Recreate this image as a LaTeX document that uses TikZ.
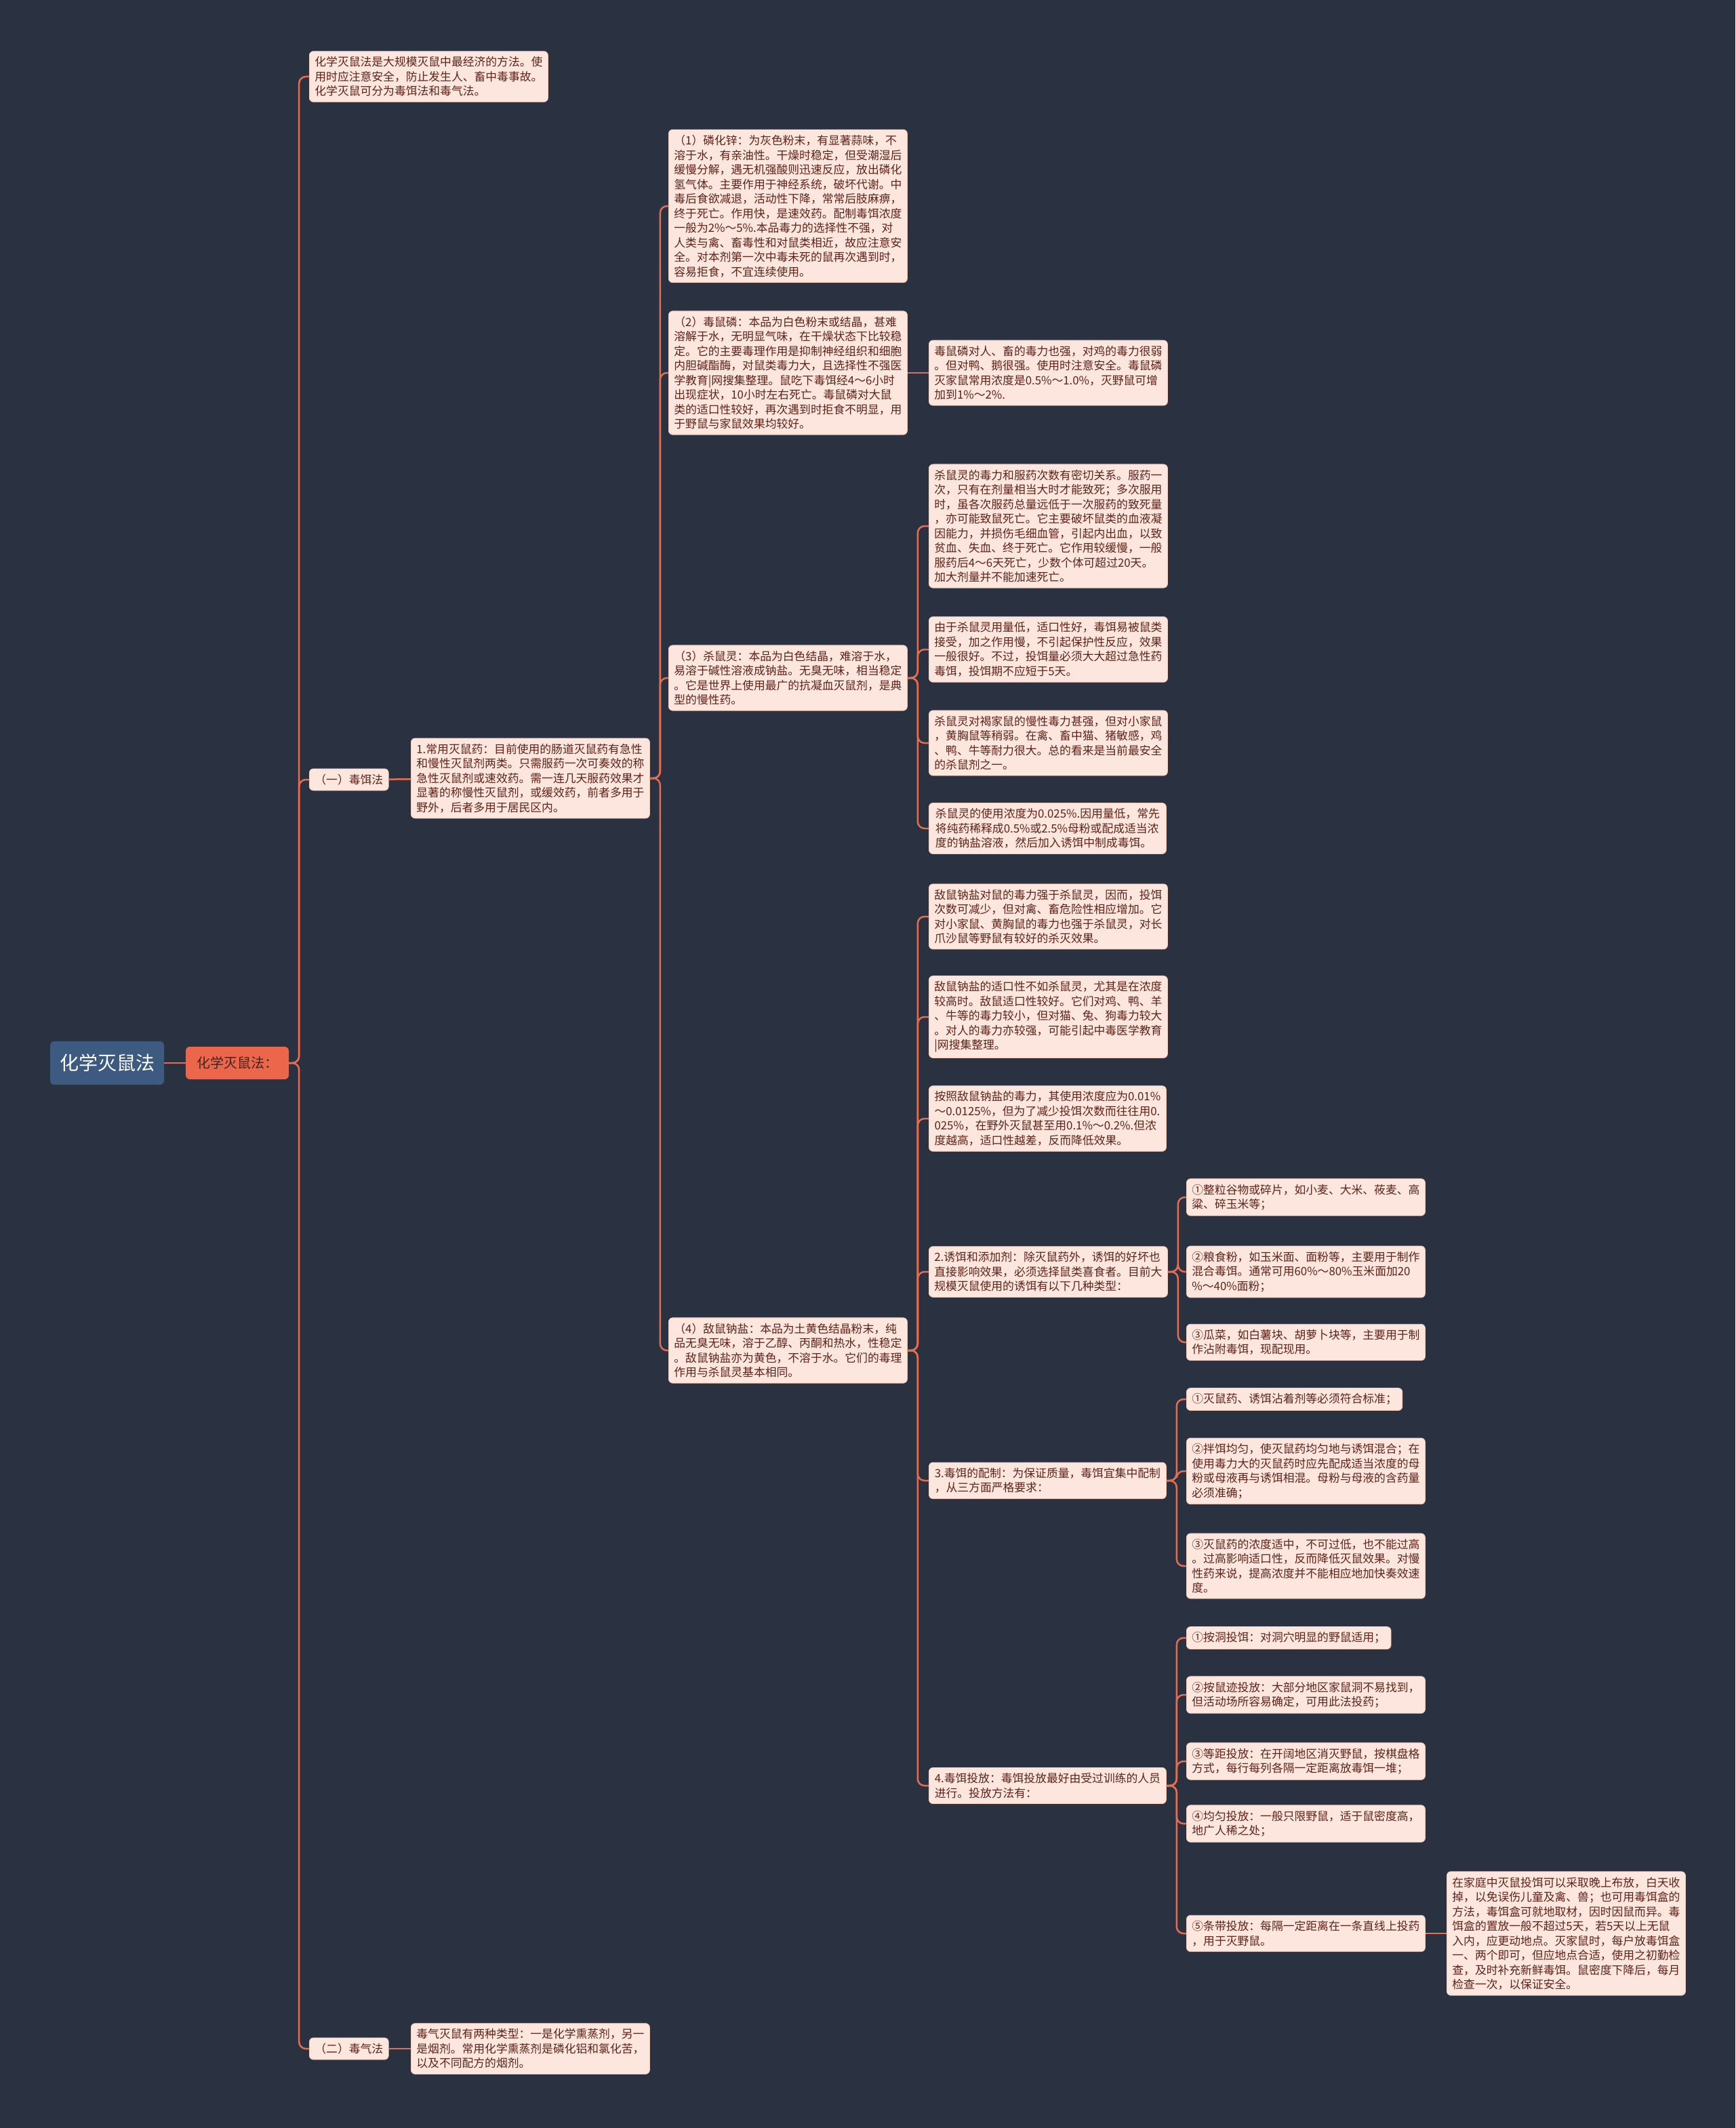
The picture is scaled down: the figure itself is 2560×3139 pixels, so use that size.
\documentclass[tikz,border=0pt]{standalone}
\usepackage{fontspec}
\usepackage{xcolor}
\usepackage{tikz}
\usetikzlibrary{positioning}
\newfontfamily\cjk{Noto Sans CJK SC}
\definecolor{bgnavy}{HTML}{2A3140}
\definecolor{rootblue}{HTML}{3D5A80}
\definecolor{headorange}{HTML}{EC664C}
\definecolor{linkorange}{HTML}{E46E52}
\definecolor{leafpink}{HTML}{FDE6DE}
\definecolor{leafedge}{HTML}{F2CDBF}
\definecolor{leaftext}{HTML}{5E2218}
\definecolor{headtext}{HTML}{3A2622}

\begin{document}
\begin{tikzpicture}[
  x=1pt, y=-1pt,
  every node/.style={font=\cjk},
  rootbox/.style ={fill=rootblue, text=white, rounded corners=6pt,
                   font=\cjk\fontsize{28}{32}\selectfont,
                   minimum width=168pt, minimum height=64pt},
  headbox/.style ={fill=headorange, text=headtext, rounded corners=6pt,
                   font=\cjk\fontsize{20}{24}\selectfont,
                   minimum width=152pt, minimum height=48pt},
  leafbox/.style ={fill=leafpink, draw=leafedge, line width=0.8pt,
                   text=leaftext, rounded corners=6pt, align=left, anchor=west,
                   font=\cjk\fontsize{16.8}{21.5}\selectfont,
                   inner xsep=8pt, inner ysep=8pt},
  widebox/.style ={leafbox, minimum width=350pt},
  link/.style    ={draw=linkorange, line width=2.5pt, rounded corners=10pt},
]
  \fill[bgnavy] (0,0) rectangle (2560,3139);
  \useasboundingbox (0,0) rectangle (2560,3139);

  % trunk
  \node[rootbox] (root) at (158,1568) {化学灭鼠法};
  \node[headbox] (head) at (350,1568) {化学灭鼠法：};

  \node[widebox] (intro) at (456,113) {化学灭鼠法是大规模灭鼠中最经济的方法。使\\用时应注意安全，防止发生人、畜中毒事故。\\化学灭鼠可分为毒饵法和毒气法。};
  \node[leafbox] (bait)  at (456,1150) {（一）毒饵法};
  \node[leafbox] (gas)   at (456,3022) {（二）毒气法};

  \node[widebox] (drugs) at (606,1148) {1.常用灭鼠药：目前使用的肠道灭鼠药有急性\\和慢性灭鼠剂两类。只需服药一次可奏效的称\\急性灭鼠剂或速效药。需一连几天服药效果才\\显著的称慢性灭鼠剂，或缓效药，前者多用于\\野外，后者多用于居民区内。};
  \node[widebox] (gasA)  at (606,3022) {毒气灭鼠有两种类型：一是化学熏蒸剂，另一\\是烟剂。常用化学熏蒸剂是磷化铝和氯化苦，\\以及不同配方的烟剂。};

  % the four drugs
  \node[widebox] (znp) at (986,304) {（1）磷化锌：为灰色粉末，有显著蒜味，不\\溶于水，有亲油性。干燥时稳定，但受潮湿后\\缓慢分解，遇无机强酸则迅速反应，放出磷化\\氢气体。主要作用于神经系统，破坏代谢。中\\毒后食欲减退，活动性下降，常常后肢麻痹，\\终于死亡。作用快，是速效药。配制毒饵浓度\\一般为2\%～5\%.本品毒力的选择性不强，对\\人类与禽、畜毒性和对鼠类相近，故应注意安\\全。对本剂第一次中毒未死的鼠再次遇到时，\\容易拒食，不宜连续使用。};
  \node[widebox] (dsp) at (986,550) {（2）毒鼠磷：本品为白色粉末或结晶，甚难\\溶解于水，无明显气味，在干燥状态下比较稳\\定。它的主要毒理作用是抑制神经组织和细胞\\内胆碱酯酶，对鼠类毒力大，且选择性不强医\\学教育|网搜集整理。鼠吃下毒饵经4～6小时\\出现症状，10小时左右死亡。毒鼠磷对大鼠\\类的适口性较好，再次遇到时拒食不明显，用\\于野鼠与家鼠效果均较好。};
  \node[widebox] (ksl) at (986,1000) {（3）杀鼠灵：本品为白色结晶，难溶于水，\\易溶于碱性溶液成钠盐。无臭无味，相当稳定\\。它是世界上使用最广的抗凝血灭鼠剂，是典\\型的慢性药。};
  \node[widebox] (dsn) at (986,1992) {（4）敌鼠钠盐：本品为土黄色结晶粉末，纯\\品无臭无味，溶于乙醇、丙酮和热水，性稳定\\。敌鼠钠盐亦为黄色，不溶于水。它们的毒理\\作用与杀鼠灵基本相同。};

  \node[widebox] (dspA) at (1370,550) {毒鼠磷对人、畜的毒力也强，对鸡的毒力很弱\\。但对鸭、鹅很强。使用时注意安全。毒鼠磷\\灭家鼠常用浓度是0.5\%～1.0\%，灭野鼠可增\\加到1\%～2\%.};

  \node[widebox] (kslA) at (1370,776) {杀鼠灵的毒力和服药次数有密切关系。服药一\\次，只有在剂量相当大时才能致死；多次服用\\时，虽各次服药总量远低于一次服药的致死量\\，亦可能致鼠死亡。它主要破坏鼠类的血液凝\\因能力，并损伤毛细血管，引起内出血，以致\\贫血、失血、终于死亡。它作用较缓慢，一般\\服药后4～6天死亡，少数个体可超过20天。\\加大剂量并不能加速死亡。};
  \node[widebox] (kslB) at (1370,958) {由于杀鼠灵用量低，适口性好，毒饵易被鼠类\\接受，加之作用慢，不引起保护性反应，效果\\一般很好。不过，投饵量必须大大超过急性药\\毒饵，投饵期不应短于5天。};
  \node[widebox] (kslC) at (1370,1096) {杀鼠灵对褐家鼠的慢性毒力甚强，但对小家鼠\\，黄胸鼠等稍弱。在禽、畜中猫、猪敏感，鸡\\、鸭、牛等耐力很大。总的看来是当前最安全\\的杀鼠剂之一。};
  \node[widebox] (kslD) at (1370,1222) {杀鼠灵的使用浓度为0.025\%.因用量低，常先\\将纯药稀释成0.5\%或2.5\%母粉或配成适当浓\\度的钠盐溶液，然后加入诱饵中制成毒饵。};

  \node[widebox] (dsnA) at (1370,1352) {敌鼠钠盐对鼠的毒力强于杀鼠灵，因而，投饵\\次数可减少，但对禽、畜危险性相应增加。它\\对小家鼠、黄胸鼠的毒力也强于杀鼠灵，对长\\爪沙鼠等野鼠有较好的杀灭效果。};
  \node[widebox] (dsnB) at (1370,1500) {敌鼠钠盐的适口性不如杀鼠灵，尤其是在浓度\\较高时。敌鼠适口性较好。它们对鸡、鸭、羊\\、牛等的毒力较小，但对猫、兔、狗毒力较大\\。对人的毒力亦较强，可能引起中毒医学教育\\|网搜集整理。};
  \node[widebox] (dsnC) at (1370,1650) {按照敌鼠钠盐的毒力，其使用浓度应为0.01\%\\～0.0125\%，但为了减少投饵次数而往往用0.\\025\%，在野外灭鼠甚至用0.1\%～0.2\%.但浓\\度越高，适口性越差，反而降低效果。};

  % bait, mixing, placing
  \node[widebox] (bait2) at (1370,1876) {2.诱饵和添加剂：除灭鼠药外，诱饵的好坏也\\直接影响效果，必须选择鼠类喜食者。目前大\\规模灭鼠使用的诱饵有以下几种类型：};
  \node[widebox] (bait3) at (1370,2184) {3.毒饵的配制：为保证质量，毒饵宜集中配制\\，从三方面严格要求：};
  \node[widebox] (bait4) at (1370,2634) {4.毒饵投放：毒饵投放最好由受过训练的人员\\进行。投放方法有：};

  \node[widebox] (b2a) at (1750,1766) {①整粒谷物或碎片，如小麦、大米、莜麦、高\\粱、碎玉米等；};
  \node[widebox] (b2b) at (1750,1876) {②粮食粉，如玉米面、面粉等，主要用于制作\\混合毒饵。通常可用60\%～80\%玉米面加20\\\%～40\%面粉；};
  \node[widebox] (b2c) at (1750,1980) {③瓜菜，如白薯块、胡萝卜块等，主要用于制\\作沾附毒饵，现配现用。};

  \node[leafbox] (b3a) at (1750,2064) {①灭鼠药、诱饵沾着剂等必须符合标准；};
  \node[widebox] (b3b) at (1750,2170) {②拌饵均匀，使灭鼠药均匀地与诱饵混合；在\\使用毒力大的灭鼠药时应先配成适当浓度的母\\粉或母液再与诱饵相混。母粉与母液的含药量\\必须准确；};
  \node[widebox] (b3c) at (1750,2310) {③灭鼠药的浓度适中，不可过低，也不能过高\\。过高影响适口性，反而降低灭鼠效果。对慢\\性药来说，提高浓度并不能相应地加快奏效速\\度。};

  \node[leafbox] (b4a) at (1750,2416) {①按洞投饵：对洞穴明显的野鼠适用；};
  \node[widebox] (b4b) at (1750,2500) {②按鼠迹投放：大部分地区家鼠洞不易找到，\\但活动场所容易确定，可用此法投药；};
  \node[widebox] (b4c) at (1750,2598) {③等距投放：在开阔地区消灭野鼠，按棋盘格\\方式，每行每列各隔一定距离放毒饵一堆；};
  \node[widebox] (b4d) at (1750,2690) {④均匀投放：一般只限野鼠，适于鼠密度高，\\地广人稀之处；};
  \node[widebox] (b4e) at (1750,2852) {⑤条带投放：每隔一定距离在一条直线上投药\\，用于灭野鼠。};
  \node[widebox] (b4eA) at (2134,2852) {在家庭中灭鼠投饵可以采取晚上布放，白天收\\掉，以免误伤儿童及禽、兽；也可用毒饵盒的\\方法，毒饵盒可就地取材，因时因鼠而异。毒\\饵盒的置放一般不超过5天，若5天以上无鼠\\入内，应更动地点。灭家鼠时，每户放毒饵盒\\一、两个即可，但应地点合适，使用之初勤检\\查，及时补充新鲜毒饵。鼠密度下降后，每月\\检查一次，以保证安全。};

  % connectors
  \draw[link] (root.east) -- (head.west);
  \draw[link] (head.east) -- ++(15,0) |- (intro.west);
  \draw[link] (head.east) -- ++(15,0) |- (bait.west);
  \draw[link] (head.east) -- ++(15,0) |- (gas.west);
  \draw[link] (bait) -- (drugs);
  \draw[link] (gas) -- (gasA);
  \draw[link] (drugs.east) -- ++(15,0) |- (znp.west);
  \draw[link] (drugs.east) -- ++(15,0) |- (dsp.west);
  \draw[link] (drugs.east) -- ++(15,0) |- (ksl.west);
  \draw[link] (drugs.east) -- ++(15,0) |- (dsn.west);
  \draw[link] (dsp) -- (dspA);
  \draw[link] (ksl.east) -- ++(15,0) |- (kslA.west);
  \draw[link] (ksl.east) -- ++(15,0) |- (kslB.west);
  \draw[link] (ksl.east) -- ++(15,0) |- (kslC.west);
  \draw[link] (ksl.east) -- ++(15,0) |- (kslD.west);
  \draw[link] (dsn.east) -- ++(15,0) |- (dsnA.west);
  \draw[link] (dsn.east) -- ++(15,0) |- (dsnB.west);
  \draw[link] (dsn.east) -- ++(15,0) |- (dsnC.west);
  \draw[link] (dsn.east) -- ++(15,0) |- (bait2.west);
  \draw[link] (dsn.east) -- ++(15,0) |- (bait3.west);
  \draw[link] (dsn.east) -- ++(15,0) |- (bait4.west);
  \draw[link] (bait2.east) -- ++(15,0) |- (b2a.west);
  \draw[link] (bait2.east) -- ++(15,0) |- (b2b.west);
  \draw[link] (bait2.east) -- ++(15,0) |- (b2c.west);
  \draw[link] (bait3.east) -- ++(15,0) |- (b3a.west);
  \draw[link] (bait3.east) -- ++(15,0) |- (b3b.west);
  \draw[link] (bait3.east) -- ++(15,0) |- (b3c.west);
  \draw[link] (bait4.east) -- ++(15,0) |- (b4a.west);
  \draw[link] (bait4.east) -- ++(15,0) |- (b4b.west);
  \draw[link] (bait4.east) -- ++(15,0) |- (b4c.west);
  \draw[link] (bait4.east) -- ++(15,0) |- (b4d.west);
  \draw[link] (bait4.east) -- ++(15,0) |- (b4e.west);
  \draw[link] (b4e) -- (b4eA);
\end{tikzpicture}
\end{document}
